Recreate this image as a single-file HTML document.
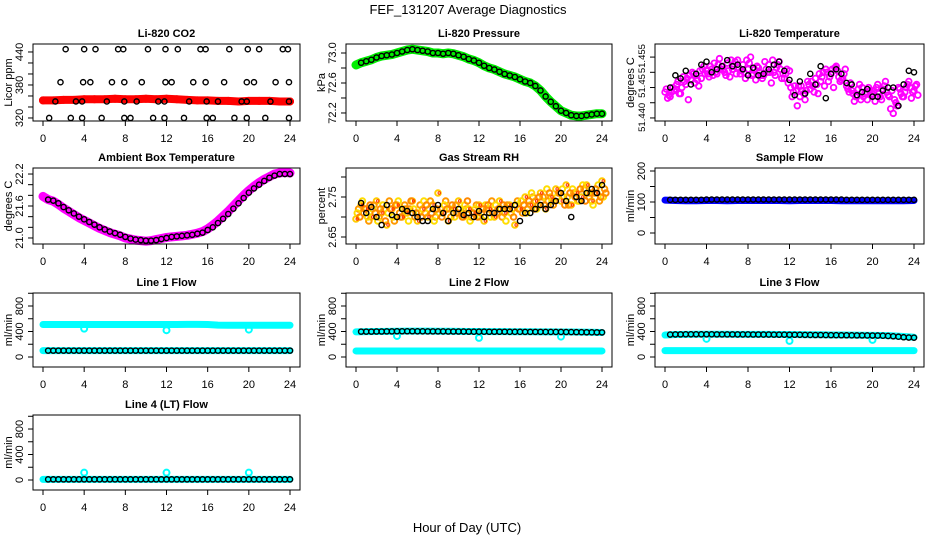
<!DOCTYPE html>
<html><head><meta charset="utf-8">
<style>
html,body{margin:0;padding:0;background:#fff;}
svg{display:block;font-family:"Liberation Sans",Arial,sans-serif;}
</style></head>
<body>
<svg id="chart" width="936" height="540" viewBox="0 0 936 540" xmlns="http://www.w3.org/2000/svg">
<rect width="936" height="540" fill="#fff"/>
<text x="468" y="14" font-size="13" text-anchor="middle">FEF_131207  Average Diagnostics</text>
<text x="467" y="532" font-size="13" text-anchor="middle">Hour of Day (UTC)</text>
</svg>
<script>
// ---------- data ----------
const xTicks = [0,4,8,12,16,20,24];
// CO2
const co2Red = [352,352,353,353,354,354,354,355,354,354,355,354,355,354,353,352,352,351,351,350,351,351,351,350,350];
const co2BlkHours = [2.2,4.0,5.1,7.3,7.8,10.2,11.9,13.1,15.3,15.8,18.1,19.9,21.0,23.3,23.8, 1.7,3.9,4.6,6.7,7.9,9.6,11.9,12.5,14.6,15.8,17.6,19.8,20.5,22.6,23.9, 1.2,3.2,3.8,6.2,7.9,9.1,11.2,11.8,14.2,15.9,17.0,19.3,19.8,22.1,23.9, 0.6,2.7,3.8,5.7,7.9,8.5,10.7,11.8,13.7,15.9,16.5,18.6,19.8,21.6,23.9];
const co2BlkValues = [445,445,445,445,445,445,445,445,445,445,445,445,445,445,445, 385,385,385,385,385,385,385,385,385,385,385,385,385,385,385, 350,350,350,350,350,350,350,350,350,350,350,350,350,350,350, 320,320,320,320,320,320,320,320,320,320,320,320,320,320,320];
// Pressure
const presGreen = [72.84,72.87,72.89,72.91,72.94,72.96,72.97,72.98,73.0,73.02,73.04,73.05,73.04,73.03,73.02,73.0,73.0,72.99,73.0,72.99,72.97,72.95,72.92,72.9,72.87,72.83,72.8,72.78,72.75,72.72,72.7,72.68,72.65,72.62,72.6,72.56,72.5,72.42,72.35,72.29,72.23,72.2,72.17,72.16,72.16,72.17,72.18,72.19,72.19];
const presBlack = [72.87,72.89,72.91,72.94,72.96,72.97,72.98,73.0,73.02,73.04,73.05,73.04,73.03,73.02,73.0,73.0,72.99,73.0,72.99,72.97,72.95,72.92,72.9,72.87,72.83,72.8,72.78,72.75,72.72,72.7,72.68,72.65,72.62,72.6,72.56,72.5,72.42,72.35,72.29,72.23,72.2,72.17,72.16,72.16,72.17,72.18,72.19,72.19];
// Li-820 temperature
const tempPinkA = [51.4485,51.4470,51.4495,51.4480,51.4510,51.4525,51.4540,51.4530,51.4555,51.4560,51.4545,51.4570,51.4580,51.4560,51.4590,51.4575,51.4560,51.4545,51.4565,51.4540,51.4575,51.4550,51.4585,51.4530,51.4555,51.4505,51.4470,51.4460,51.4495,51.4530,51.4520,51.4560,51.4545,51.4570,51.4525,51.4505,51.4490,51.4470,51.4500,51.4460,51.4480,51.4510,51.4495,51.4475,51.4415,51.4500,51.4470,51.4520,51.4490];
const tempPinkB = [51.4465,51.4500,51.4520,51.4535,51.4460,51.4545,51.4505,51.4570,51.4535,51.4580,51.4595,51.4550,51.4535,51.4585,51.4545,51.4530,51.4600,51.4525,51.4540,51.4560,51.4515,51.4565,51.4530,51.4560,51.4470,51.4440,51.4490,51.4520,51.4505,51.4480,51.4550,51.4520,51.4500,51.4535,51.4545,51.4485,51.4455,51.4510,51.4480,51.4490,51.4455,51.4470,51.4520,51.4430,51.4450,51.4480,51.4500,51.4465,51.4510];
const tempPinkC = [51.4495,51.4485,51.4510,51.4500,51.4530,51.4550,51.4525,51.4560,51.4545,51.4540,51.4575,51.4560,51.4555,51.4570,51.4565,51.4550,51.4580,51.4560,51.4550,51.4585,51.4550,51.4540,51.4560,51.4545,51.4500,51.4490,51.4505,51.4490,51.4520,51.4510,51.4535,51.4550,51.4560,51.4555,51.4530,51.4495,51.4480,51.4495,51.4470,51.4500,51.4490,51.4480,51.4505,51.4470,51.4460,51.4495,51.4485,51.4500,51.4505];
const tempPinkD = [51.4475,51.4490,51.4480,51.4520,51.4540,51.4515,51.4555,51.4545,51.4570,51.4550,51.4560,51.4540,51.4590,51.4545,51.4555,51.4590,51.4540,51.4570,51.4530,51.4550,51.4590,51.4575,51.4545,51.4515,51.4485,51.4505,51.4480,51.4510,51.4485,51.4545,51.4505,51.4535,51.4565,51.4520,51.4560,51.4515,51.4470,51.4460,51.4485,51.4475,51.4500,51.4460,51.4485,51.4490,51.4440,51.4470,51.4510,51.4485,51.4475];
const tempBlack = [51.4500,51.4540,51.4530,51.4555,51.4510,51.4545,51.4575,51.4585,51.4550,51.4560,51.4570,51.4590,51.4570,51.4575,51.4560,51.4540,51.4565,51.4540,51.4545,51.4560,51.4575,51.4585,51.4555,51.4525,51.4475,51.4520,51.4480,51.4545,51.4510,51.4570,51.4465,51.4545,51.4560,51.4545,51.4515,51.4510,51.4475,51.4485,51.4495,51.4470,51.4470,51.4490,51.4500,51.4500,51.4440,51.4510,51.4555,51.4550];
// Ambient box temperature
const ambMagenta = [21.78,21.72,21.69,21.63,21.56,21.5,21.44,21.38,21.33,21.28,21.23,21.18,21.14,21.1,21.07,21.04,21.0,20.98,20.96,20.95,20.94,20.95,20.97,20.99,21.01,21.02,21.03,21.04,21.05,21.07,21.09,21.12,21.17,21.24,21.32,21.41,21.5,21.6,21.7,21.8,21.89,21.97,22.04,22.1,22.15,22.2,22.22,22.23,22.22];
const ambBlack = [21.72,21.7,21.65,21.58,21.52,21.46,21.4,21.35,21.3,21.25,21.2,21.16,21.12,21.09,21.06,21.02,20.99,20.97,20.96,20.95,20.95,20.96,20.98,21.0,21.02,21.03,21.04,21.05,21.06,21.08,21.1,21.15,21.2,21.28,21.36,21.45,21.55,21.65,21.75,21.85,21.93,22.0,22.07,22.13,22.17,22.2,22.2,22.2];
// Gas stream RH
const rhYellow = [2.695,2.73,2.72,2.70,2.74,2.71,2.68,2.72,2.73,2.70,2.71,2.74,2.69,2.72,2.70,2.73,2.76,2.71,2.69,2.72,2.74,2.70,2.72,2.71,2.73,2.69,2.72,2.70,2.74,2.71,2.73,2.68,2.72,2.75,2.73,2.74,2.76,2.72,2.75,2.77,2.74,2.78,2.73,2.76,2.75,2.78,2.74,2.76,2.79];
const rhOrange = [2.72,2.71,2.69,2.73,2.70,2.72,2.74,2.69,2.71,2.73,2.72,2.70,2.73,2.71,2.74,2.70,2.72,2.74,2.70,2.73,2.71,2.72,2.70,2.73,2.71,2.72,2.74,2.71,2.70,2.73,2.72,2.74,2.71,2.72,2.75,2.73,2.75,2.74,2.73,2.76,2.75,2.73,2.76,2.74,2.77,2.75,2.76,2.74,2.77];
const rhYellow2 = [2.71,2.74,2.70,2.72,2.69,2.73,2.71,2.70,2.74,2.72,2.69,2.72,2.71,2.74,2.72,2.69,2.71,2.73,2.72,2.70,2.72,2.73,2.69,2.72,2.70,2.73,2.70,2.73,2.72,2.69,2.71,2.73,2.74,2.71,2.76,2.72,2.74,2.77,2.74,2.75,2.77,2.75,2.77,2.74,2.78,2.76,2.73,2.78,2.75];
const rhOrange2 = [2.70,2.72,2.73,2.71,2.72,2.69,2.72,2.73,2.70,2.72,2.74,2.71,2.70,2.73,2.71,2.72,2.70,2.72,2.73,2.71,2.70,2.74,2.71,2.70,2.72,2.73,2.71,2.72,2.73,2.72,2.70,2.72,2.73,2.74,2.72,2.75,2.73,2.76,2.74,2.76,2.73,2.76,2.75,2.77,2.74,2.76,2.77,2.75,2.76];
const rhBlack = [2.735,2.71,2.725,2.70,2.68,2.73,2.705,2.70,2.72,2.715,2.71,2.70,2.69,2.69,2.72,2.73,2.71,2.69,2.71,2.72,2.705,2.71,2.70,2.715,2.70,2.71,2.71,2.72,2.72,2.72,2.73,2.69,2.71,2.71,2.72,2.73,2.72,2.73,2.74,2.76,2.74,2.70,2.75,2.74,2.76,2.77,2.76,2.78];
// Sample flow
const sampleBlue = [106,105,104,104,105,105,104,105,105,105,105,105,104,105,105,105,105,104,104,104,104,104,104,104,105];
const sampleBlack = [107,107,107,107,107,107,107,108,108,108,108,108,108,108,108,108,108,108,108,108,108,108,108,108,108,108,108,108,108,108,108,108,108,108,107,107,107,107,107,107,107,107,107,107,107,107,107,107];
// Line flows
const line1CyanHigh = [510,510,510,510,510,510,510,510,510,510,510,510,510,510,512,512,510,500,498,498,498,498,498,498,498];
const line1CyanLow = [100,100,100,100,100,100,100,100,100,100,100,100,100,100,100,100,100,100,100,100,100,100,100,100,100];
const line1OutHours = [4,12,20];
const line1OutValues = [445,420,430];
const line1Black = [100,100,100,100,100,100,100,100,100,100,100,100,100,100,100,100,100,100,100,100,100,100,100,100,100,100,100,100,100,100,100,100,100,100,100,100,100,100,100,100,100,100,100,100,100,100,100,100];
const line2CyanHigh = [395,398,400,402,404,405,405,405,404,403,402,400,400,398,398,397,397,396,395,395,393,392,390,388,385];
const line2CyanLow = [95,95,95,95,95,95,95,95,95,95,95,95,95,95,95,95,95,95,95,95,95,95,95,95,95];
const line2OutHours = [4,12,20];
const line2OutValues = [330,300,320];
const line2Black = [398,398,398,400,400,402,402,404,404,404,404,403,403,402,402,402,401,400,400,400,399,398,397,397,397,396,396,396,396,395,395,395,394,394,394,394,393,393,393,393,392,391,390,389,388,387,386,386];
const line3CyanHigh = [345,352,355,356,356,356,356,355,355,354,354,353,352,350,349,348,346,345,344,342,340,338,332,322,310];
const line3CyanLow = [100,100,100,100,100,100,100,100,100,100,100,100,100,100,100,100,100,100,100,100,100,100,100,100,100];
const line3OutHours = [4,12,20];
const line3OutValues = [285,252,268];
const line3Black = [352,354,355,356,356,356,356,356,356,355,355,355,355,354,354,354,353,353,352,352,351,350,350,349,349,348,347,346,345,345,344,343,342,341,341,340,339,339,338,337,336,334,330,325,318,310,305,303];
const line4Cyan = [10,10,10,10,10,10,10,10,10,10,10,10,10,10,10,10,10,10,10,10,10,10,10,10,10];
const line4OutHours = [4,12,20];
const line4OutValues = [115,115,115];
const line4Black = [10,10,10,10,10,10,10,10,10,10,10,10,10,10,10,10,10,10,10,10,10,10,10,10,10,10,10,10,10,10,10,10,10,10,10,10,10,10,10,10,10,10,10,10,10,10,10,10];

// ---------- rendering ----------
const NS = 'http://www.w3.org/2000/svg';
const svg = document.getElementById('chart');
function mk(tag, parent) { const e = document.createElementNS(NS, tag); parent.appendChild(e); return e; }
const COLS = [{L:33,R:300},{L:346,R:612},{L:655,R:924}];
const ROWS = [{T:44,B:121},{T:168,B:244},{T:293,B:367},{T:415,B:490}];

function panel(name, c, r, title, ylab, vTop, vBot, yTicks, yLabels, labSize) {
  const L = COLS[c].L, R = COLS[c].R, T = ROWS[r].T, B = ROWS[r].B;
  const g = mk('g', svg);
  
  
  const sx = h => (L + 10) + h / 24 * (R - L - 20);
  const sy = v => T + (vTop - v) / (vTop - vBot) * (B - T);
  const marks = mk('g', g);
  
  
  const box = mk('rect', g);
  box.setAttribute('x', L); box.setAttribute('y', T); box.setAttribute('width', R - L); box.setAttribute('height', B - T);
  box.setAttribute('fill', 'none'); box.setAttribute('stroke', '#000'); box.setAttribute('stroke-width', '1');
  
  
  const t = mk('text', g);
  t.setAttribute('x', (L + R) / 2); t.setAttribute('y', T - 7); t.setAttribute('text-anchor', 'middle');
  t.setAttribute('font-size', '11'); t.setAttribute('font-weight', 'bold'); t.textContent = title;
  
  
  const xa = mk('g', g);
  
  
  const xl = mk('line', xa);
  xl.setAttribute('x1', sx(xTicks[0])); xl.setAttribute('x2', sx(xTicks[xTicks.length - 1]));
  xl.setAttribute('y1', B); xl.setAttribute('y2', B); xl.setAttribute('stroke', '#000');
  xTicks.forEach(h => {
    const tk = mk('line', xa);
    tk.setAttribute('x1', sx(h)); tk.setAttribute('x2', sx(h)); tk.setAttribute('y1', B); tk.setAttribute('y2', B + 5); tk.setAttribute('stroke', '#000');
    const lb = mk('text', xa);
    lb.setAttribute('x', sx(h)); lb.setAttribute('y', B + 21); lb.setAttribute('text-anchor', 'middle'); lb.setAttribute('font-size', '11');
    lb.textContent = h;
    
    
  });
  const ya = mk('g', g);
  
  
  const yl = mk('line', ya);
  yl.setAttribute('x1', L); yl.setAttribute('x2', L);
  yl.setAttribute('y1', sy(yTicks[0])); yl.setAttribute('y2', sy(yTicks[yTicks.length - 1])); yl.setAttribute('stroke', '#000');
  yTicks.forEach(v => {
    const tk = mk('line', ya);
    tk.setAttribute('x1', L - 5); tk.setAttribute('x2', L); tk.setAttribute('y1', sy(v)); tk.setAttribute('y2', sy(v)); tk.setAttribute('stroke', '#000');
  });
  yLabels.forEach(([v, s]) => {
    const lb = mk('text', ya);
    const x = L - 10, y = sy(v);
    lb.setAttribute('x', x); lb.setAttribute('y', y); lb.setAttribute('text-anchor', 'middle'); lb.setAttribute('font-size', labSize || '11');
    lb.setAttribute('transform', 'rotate(-90 ' + x + ' ' + y + ')');
    lb.textContent = s;
    
    
  });
  const yt = mk('text', g);
  const yx = L - 21, yy = (T + B) / 2;
  yt.setAttribute('x', yx); yt.setAttribute('y', yy); yt.setAttribute('text-anchor', 'middle'); yt.setAttribute('font-size', '11');
  yt.setAttribute('transform', 'rotate(-90 ' + yx + ' ' + yy + ')');
  yt.textContent = ylab;
  
  
  return {g: marks, sx, sy};
}
function pts(p, hours, vals, color, r, sw, nm) {
  const g = mk('g', p.g);
  
  
  vals.forEach((v, i) => {
    const c = mk('circle', g);
    c.setAttribute('cx', p.sx(hours[i])); c.setAttribute('cy', p.sy(v)); c.setAttribute('r', r);
    c.setAttribute('fill', 'none'); c.setAttribute('stroke', color); c.setAttribute('stroke-width', sw);
    
    
  });
}
function band(p, hours, vals, color, w, nm) {
  const pl = mk('polyline', p.g);
  pl.setAttribute('points', vals.map((v, i) => p.sx(hours[i]) + ',' + p.sy(v)).join(' '));
  pl.setAttribute('fill', 'none'); pl.setAttribute('stroke', color); pl.setAttribute('stroke-width', w);
  pl.setAttribute('stroke-linejoin', 'round'); pl.setAttribute('stroke-linecap', 'round');
  
  
}
const hourly = co2Red.map((_, i) => i);
const half49 = presGreen.map((_, i) => i * 0.5);
const half48 = presBlack.map((_, i) => (i + 1) * 0.5);
const R0 = 2.6, SW = 1.4;

let p = panel('co2', 0, 0, 'Li-820 CO2', 'Licor ppm', 454.5, 314.5, [320,340,360,380,400,420,440], [[320,'320'],[380,'380'],[440,'440']]);
band(p, hourly, co2Red, '#ff0000', 8, 'co2-red-series');
pts(p, hourly, co2Red, '#ff0000', 3, 2, 'co2-red-points');
pts(p, co2BlkHours, co2BlkValues, '#000', R0, SW, 'co2-black-points');

p = panel('pressure', 1, 0, 'Li-820 Pressure', 'kPa', 73.12, 72.093, [72.2,72.4,72.6,72.8,73.0], [[72.2,'72.2'],[72.6,'72.6'],[73.0,'73.0']]);
band(p, half49, presGreen, '#00ee00', 9, 'pressure-green-series');
pts(p, half48, presBlack, '#000', R0, SW, 'pressure-black-points');

p = panel('li820-temp', 2, 0, 'Li-820 Temperature', 'degrees C', 51.4643, 51.439, [51.440,51.445,51.450,51.455,51.460], [[51.4402,'51.440'],[51.4505,'51.45'],[51.4595,'51.455']], '9.5');
pts(p, half49, tempPinkA, '#ff00ff', 2.8, 1.8, 'li820-temp-pink-a');
pts(p, half49.map(h => h + 0.25), tempPinkB, '#ff00ff', 2.8, 1.8, 'li820-temp-pink-b');
pts(p, half49.map(h => h + 0.125), tempPinkC, '#ff00ff', 2.8, 1.8, 'li820-temp-pink-c');
pts(p, half49.map(h => h + 0.375), tempPinkD, '#ff00ff', 2.8, 1.8, 'li820-temp-pink-d');
pts(p, half48, tempBlack, '#000', R0, SW, 'li820-temp-black-points');

p = panel('ambient-temp', 0, 1, 'Ambient Box Temperature', 'degrees C', 22.313, 20.887, [21.0,21.2,21.4,21.6,21.8,22.0,22.2], [[21.0,'21.0'],[21.6,'21.6'],[22.2,'22.2']]);
band(p, half49, ambMagenta, '#ff00ff', 9, 'ambient-magenta-series');
pts(p, half48, ambBlack, '#000', R0, SW, 'ambient-black-points');

p = panel('gas-rh', 1, 1, 'Gas Stream RH', 'percent', 2.8225, 2.6325, [2.65,2.70,2.75,2.80], [[2.65,'2.65'],[2.75,'2.75']]);
pts(p, half49, rhYellow, '#ffcc00', 2.8, 2, 'rh-yellow-points');
pts(p, half49.map(h => h + 0.25), rhOrange, '#ff9900', 2.8, 2, 'rh-orange-points');
pts(p, half49.map(h => h + 0.125), rhYellow2, '#ffdd00', 2.8, 2, 'rh-yellow2-points');
pts(p, half49.map(h => h + 0.375), rhOrange2, '#ff8800', 2.8, 2, 'rh-orange2-points');
pts(p, half49.map(h => h + 0.12), rhYellow, '#ff3300', 1.2, 1, 'rh-red-points');
pts(p, half48, rhBlack, '#000', R0, SW, 'rh-black-points');

p = panel('sample-flow', 2, 1, 'Sample Flow', 'ml/min', 209.7, -35.5, [0,50,100,150,200], [[0,'0'],[100,'100'],[200,'200']]);
band(p, hourly, sampleBlue, '#0000ff', 7, 'sample-blue-series');
pts(p, half48, sampleBlack, '#000', R0, SW, 'sample-black-points');

const flowTicks = [0,200,400,600,800,1000];
const flowLabels = [[0,'0'],[400,'400'],[800,'800']];
p = panel('line1-flow', 0, 2, 'Line 1 Flow', 'ml/min', 1004, -157, flowTicks, flowLabels);
band(p, hourly, line1CyanHigh, '#00ffff', 7, 'line1-cyan-high');
band(p, hourly, line1CyanLow, '#00ffff', 7, 'line1-cyan-low');
pts(p, line1OutHours, line1OutValues, '#00ffff', 3, 2, 'line1-cyan-outliers');
pts(p, half48, line1Black, '#000', R0, SW, 'line1-black-points');

p = panel('line2-flow', 1, 2, 'Line 2 Flow', 'ml/min', 1004, -157, flowTicks, flowLabels);
band(p, hourly, line2CyanHigh, '#00ffff', 7, 'line2-cyan-high');
band(p, hourly, line2CyanLow, '#00ffff', 7, 'line2-cyan-low');
pts(p, line2OutHours, line2OutValues, '#00ffff', 3, 2, 'line2-cyan-outliers');
pts(p, half48, line2Black, '#000', R0, SW, 'line2-black-points');

p = panel('line3-flow', 2, 2, 'Line 3 Flow', 'ml/min', 1004, -157, flowTicks, flowLabels);
band(p, hourly, line3CyanHigh, '#00ffff', 7, 'line3-cyan-high');
band(p, hourly, line3CyanLow, '#00ffff', 7, 'line3-cyan-low');
pts(p, line3OutHours, line3OutValues, '#00ffff', 3, 2, 'line3-cyan-outliers');
pts(p, half48, line3Black, '#000', R0, SW, 'line3-black-points');

p = panel('line4-flow', 0, 3, 'Line 4 (LT) Flow', 'ml/min', 1020, -157, flowTicks, flowLabels);
band(p, hourly, line4Cyan, '#00ffff', 7, 'line4-cyan');
pts(p, line4OutHours, line4OutValues, '#00ffff', 3, 2, 'line4-cyan-outliers');
pts(p, half48, line4Black, '#000', R0, SW, 'line4-black-points');
</script>
</body></html>
